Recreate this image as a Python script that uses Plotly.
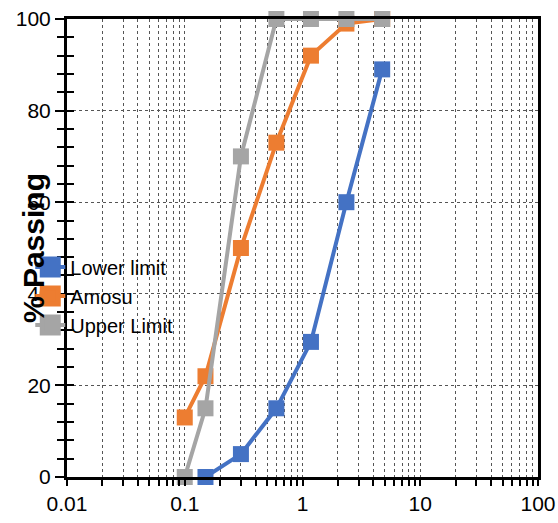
import plotly.graph_objects as go

sizes_lower = [0.15, 0.3, 0.6, 1.18, 2.36, 4.75]
lower_limit = [0, 5, 15, 29.5, 60, 89]
sizes_amosu = [0.1, 0.15, 0.3, 0.6, 1.18, 2.36, 4.75]
amosu = [13, 22, 50, 73, 92, 99, 100]
sizes_upper = [0.1, 0.15, 0.3, 0.6, 1.18, 2.36, 4.75]
upper_limit = [0, 15, 70, 100, 100, 100, 100]

x_tickvals = [0.01, 0.1, 1, 10, 100]
x_ticktext = ["0.01", "0.1", "1", "10", "100"]
y_tickvals = [0, 20, 40, 60, 80, 100]

FONT = "Liberation Sans, Arial, sans-serif"

fig = go.Figure()
series = [
    ("Lower limit", sizes_lower, lower_limit, "#4472C4"),
    ("Amosu", sizes_amosu, amosu, "#ED7D31"),
    ("Upper Limit", sizes_upper, upper_limit, "#A5A5A5"),
]
for name, xs, ys, col in series:
    fig.add_trace(go.Scatter(
        x=xs, y=ys, name=name, mode="lines+markers",
        line=dict(color=col, width=4),
        marker=dict(symbol="square", size=16, color=col),
        cliponaxis=False, showlegend=False, legendgroup=name,
    ))
# legend entries (larger symbols, like the original)
for name, xs, ys, col in series:
    fig.add_trace(go.Scatter(
        x=[None], y=[None], name=name, mode="lines+markers",
        line=dict(color=col, width=4),
        marker=dict(symbol="square", size=16, color=col, line=dict(color=col, width=5)),
        legendgroup=name, hoverinfo="skip",
    ))
# helper trace for the inner half of the y minor ticks
fig.add_trace(go.Scatter(x=[None], y=[None], yaxis="y2", showlegend=False, hoverinfo="skip"))

grid = dict(showgrid=True, gridcolor="#555", griddash="dot", gridwidth=1)

fig.update_layout(
    width=558, height=523,
    margin=dict(l=67, r=20, t=19, b=46, autoexpand=False),
    paper_bgcolor="white", plot_bgcolor="white",
    font=dict(family=FONT, size=21, color="black"),
    showlegend=True,
    legend=dict(x=-0.078, y=0.395, xanchor="left", yanchor="middle",
                bgcolor="rgba(0,0,0,0)", font=dict(size=20, family=FONT),
                tracegroupgap=0, itemwidth=30),
    xaxis=dict(
        type="log", range=[-2, 2], automargin=False,
        tickvals=x_tickvals, ticktext=x_ticktext,
        ticks="outside", ticklen=6, tickwidth=1.5, tickcolor="black",
        showline=True, linewidth=3, linecolor="black", mirror=True,
        minor=dict(dtick="D1", ticks="outside", ticklen=6, tickwidth=1.5, tickcolor="black", **grid),
        zeroline=False, tickfont=dict(size=21), **grid,
    ),
    yaxis=dict(
        range=[0, 100], tickvals=y_tickvals, automargin=False,
        ticks="outside", ticklen=9, tickwidth=1.5, tickcolor="black",
        showline=True, linewidth=3, linecolor="black", mirror=True,
        minor=dict(dtick=4, ticks="outside", ticklen=7, tickwidth=1.5, tickcolor="black", showgrid=False),
        zeroline=False, tickfont=dict(size=21), **grid,
    ),
    yaxis2=dict(
        range=[0, 100], overlaying="y", side="left", automargin=False,
        showticklabels=False, showgrid=False, zeroline=False, showline=False,
        tickvals=y_tickvals, ticks="inside", ticklen=7, tickwidth=1.5, tickcolor="black",
        minor=dict(dtick=4, ticks="inside", ticklen=7, tickwidth=1.5, tickcolor="black", showgrid=False),
    ),
    annotations=[dict(
        text="<b>% Passing</b>", textangle=-90, x=-0.072, y=0.5,
        xref="paper", yref="paper", xanchor="center", yanchor="middle",
        showarrow=False, font=dict(size=30, family=FONT, color="black"),
    )],
)

fig.write_html("out.html")
